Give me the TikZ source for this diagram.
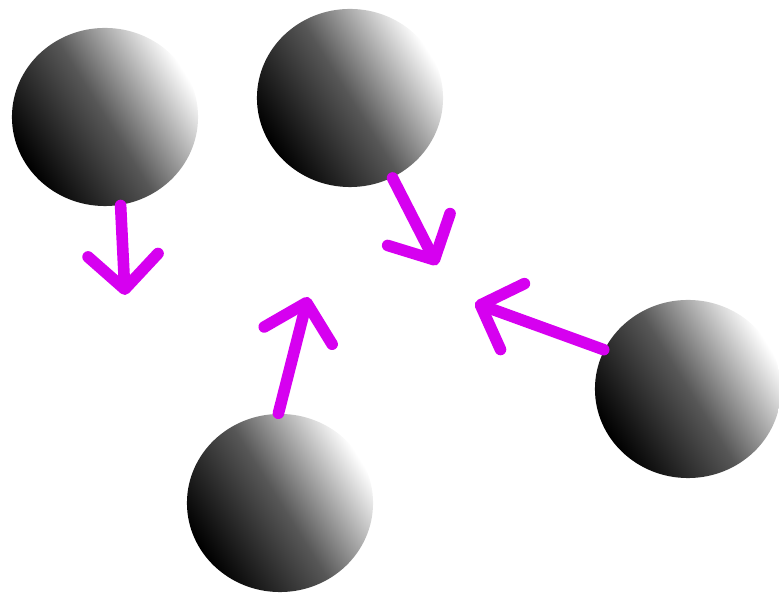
\documentclass[tikz,border=0pt]{standalone}
\usetikzlibrary{arrows.meta, shapes.geometric}
\definecolor{pushpink}{RGB}{214,0,240}

\begin{document}
\begin{tikzpicture}[x=0.01cm, y=-0.01cm, ball/.style={ellipse, minimum width=1.86cm, minimum height=1.78cm, inner sep=0pt, top color=white, bottom color=black, middle color=black!66, shading angle=-58}, push/.style={draw=pushpink, line width=3.3pt, line cap=round, line join=round, -{Straight Barb[length=3.4mm, width=7mm, round]}}]
			\useasboundingbox (0,0) rectangle (779,598);
			\node[ball] (b1) at (105,117) {};
			\node[ball] (b2) at (350,98) {};
			\node[ball] (b3) at (280,503) {};
			\node[ball] (b4) at (688,389) {};
			\coordinate (t1) at (125,295);
			\coordinate (t2) at (437,265);
			\coordinate (t3) at (308,297);
			\coordinate (t4) at (475,303);
			\draw[push] (b1.280) -- (t1);
			\draw[push] (b2.-62) -- (t2);
			\draw[push] (b3.91) -- (t3);
			\draw[push] (b4.155) -- (t4);
			\end{tikzpicture}
\end{document}
